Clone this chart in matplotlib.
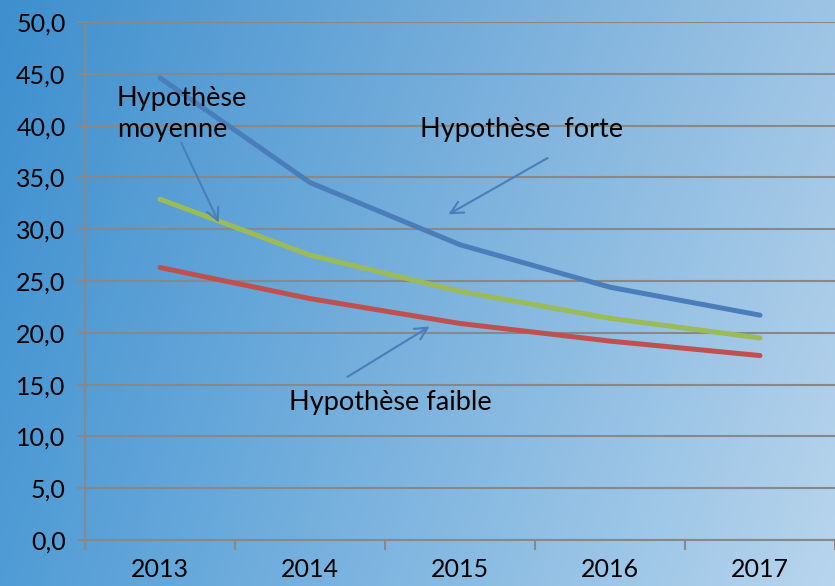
import matplotlib.pyplot as plt
import numpy as np
from matplotlib.ticker import FuncFormatter

plt.rcParams["font.family"] = ["Lato", "DejaVu Sans"]

years = ["2013", "2014", "2015", "2016", "2017"]
forte = [44.6, 34.5, 28.5, 24.4, 21.7]
moyenne = [32.9, 27.5, 24.0, 21.4, 19.5]
faible = [26.3, 23.3, 20.9, 19.2, 17.8]

fig = plt.figure(figsize=(8.35, 5.86), dpi=100)

# gradient background over the whole figure
bg = fig.add_axes([0, 0, 1, 1], zorder=0)
corners = np.array([[[62, 143, 206], [158, 196, 228]],
                    [[80, 156, 214], [184, 213, 237]]]) / 255.0
u = np.linspace(0, 1, 200)[None, :, None]
v = np.linspace(0, 1, 150)[:, None, None]
grad = ((1 - v) * ((1 - u) * corners[0, 0] + u * corners[0, 1])
        + v * ((1 - u) * corners[1, 0] + u * corners[1, 1]))
bg.imshow(grad, aspect="auto", extent=[0, 1, 0, 1])
bg.axis("off")

ax = fig.add_axes([0.1018, 0.0785, 0.8982, 0.884], zorder=1)
ax.patch.set_alpha(0)
x = np.arange(len(years))

ax.plot(x, forte, color="#4a7ebb", lw=3.6, solid_capstyle="round", zorder=3)
ax.plot(x, moyenne, color="#9bbb59", lw=3.6, solid_capstyle="round", zorder=3)
ax.plot(x, faible, color="#c0504d", lw=3.6, solid_capstyle="round", zorder=3)

ax.set_xlim(-0.5, 4.5)
ax.set_ylim(0, 50)
ax.set_yticks(np.arange(0, 51, 5))
ax.yaxis.set_major_formatter(FuncFormatter(lambda v, p: f"{v:.1f}".replace(".", ",")))
ax.set_xticks(x)
ax.set_xticklabels(years)
ax.set_xticks(np.arange(-0.5, 5, 1), minor=True)
ax.tick_params(axis="x", which="major", length=0, labelsize=18, pad=13)
ax.tick_params(axis="x", which="minor", length=7, width=1.5, color="#888888")
ax.tick_params(axis="y", length=6, width=1.5, color="#888888", labelsize=18, pad=8)
ax.grid(axis="y", color="#888888", lw=1.5)
ax.set_axisbelow(True)
for s in ["top", "right"]:
    ax.spines[s].set_visible(False)
for s in ["left", "bottom"]:
    ax.spines[s].set_color("#888888")
    ax.spines[s].set_linewidth(1.5)

arrow = dict(arrowstyle="->", color="#4a7ebb", lw=1.5, mutation_scale=22)
ax.annotate("", xy=(0.4, 30.4), xytext=(0.133, 38.6), arrowprops=arrow)
ax.annotate("", xy=(1.907, 31.3), xytext=(2.6, 37.0), arrowprops=arrow)
ax.annotate("", xy=(1.813, 20.75), xytext=(1.233, 15.6), arrowprops=arrow)

ax.text(-0.287, 41.1, "Hypothèse\nmoyenne", fontsize=19.5, va="center", ha="left",
        linespacing=1.3)
ax.text(1.73, 39.6, "Hypothèse  forte", fontsize=19.5, va="center", ha="left")
ax.text(0.86, 13.3, "Hypothèse faible", fontsize=19.5, va="center", ha="left")

fig.savefig("out.png", dpi=100)
